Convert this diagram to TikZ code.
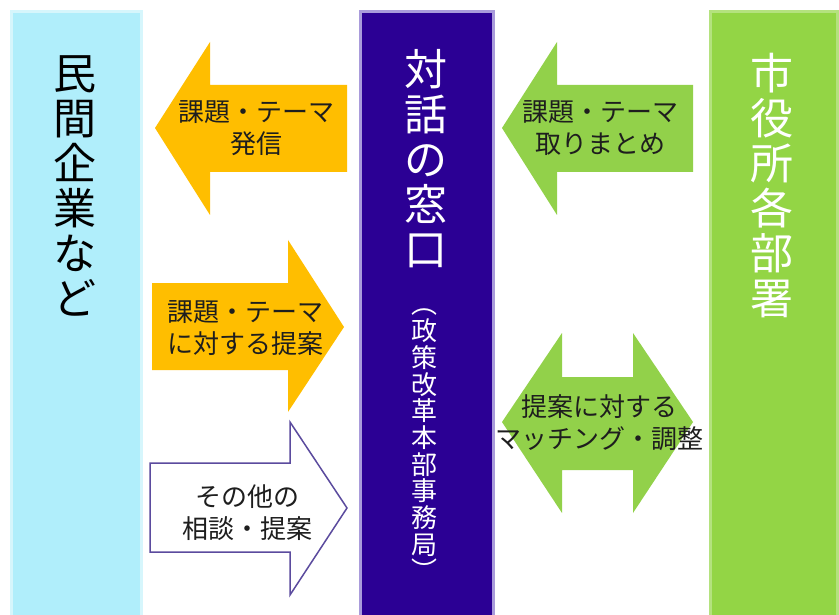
\documentclass[tikz,border=0pt]{standalone}
\usepackage{fontspec}
\newfontfamily\jpfont{Noto Sans CJK JP}

\definecolor{barcyan}{HTML}{B0EEFB}
\definecolor{edgecyan}{HTML}{D6F6FC}
\definecolor{barpurple}{HTML}{2B0094}
\definecolor{edgepurple}{HTML}{A99BDB}
\definecolor{bargreen}{HTML}{93D545}
\definecolor{edgegreen}{HTML}{B4E27E}
\definecolor{arroworange}{HTML}{FFBE00}
\definecolor{arrowgreen}{HTML}{92D14A}
\definecolor{outlinepurple}{HTML}{5B4B9E}
\definecolor{labelgray}{HTML}{1E1E1E}

\tikzset{
  bar/.style={rectangle, anchor=north west, minimum width=130pt, minimum height=640pt, line width=3pt},
  bigtext/.style={align=center, inner sep=0pt, font=\jpfont\fontsize{43}{45}\selectfont},
  smalltext/.style={align=center, inner sep=0pt, font=\jpfont\fontsize{26}{26.7}\selectfont},
  arrowtext/.style={align=center, inner sep=0pt, text=labelgray, font=\jpfont\fontsize{26}{32}\selectfont}
}

\begin{document}
\begin{tikzpicture}[x=1pt, y=-1pt]

    \clip (0,0) rectangle (839,615);
    \fill[white] (0,0) rectangle (839,615);

    % Columns
    \node[bar, fill=barcyan, draw=edgecyan] (minkan) at (10,10) {};
    \node[bar, fill=barpurple, draw=edgepurple, minimum width=133pt] (madoguchi) at (359,10) {};
    \node[bar, fill=bargreen, draw=edgegreen, minimum width=127pt] (shiyakusho) at (709,10) {};

    % Column titles
    \node[bigtext] (minkanlabel) at (75,186) {民\\間\\企\\業\\な\\ど};
    \node[bigtext, text=white] (madoguchilabel) at (426,159) {対\\話\\の\\窓\\口};
    \node[smalltext, text=white] (jimukyoku) at (424,445) {︵\\政\\策\\改\\革\\本\\部\\事\\務\\局\\︶};
    \node[bigtext, text=white] (shiyakushobulabel) at (772,186) {市\\役\\所\\各\\部\\署};

    % Left side arrows
    \fill[arroworange] (347,85) -- (210,85) -- (210,42) -- (155,128) -- (210,215) -- (210,172) -- (347,172) -- cycle;
    \node[arrowtext] (hasshin) at (256,128) {課題・テーマ\\発信};

    \fill[arroworange] (152,283) -- (288,283) -- (288,240) -- (344,327) -- (288,412) -- (288,370) -- (152,370) -- cycle;
    \node[arrowtext] (teian) at (245,328) {課題・テーマ\\に対する提案};

    \draw[fill=white, draw=outlinepurple, line width=1.5pt] (150,463) -- (290,463) -- (290,422) -- (347,508) -- (290,595) -- (290,552) -- (150,552) -- cycle;
    \node[arrowtext] (sonota) at (247,513) {その他の\\相談・提案};

    % Right side arrows
    \fill[arrowgreen] (693,85) -- (557,85) -- (557,42) -- (502,128) -- (557,215) -- (557,172) -- (693,172) -- cycle;
    \node[arrowtext] (torimatome) at (600,128) {課題・テーマ\\取りまとめ};

    \fill[arrowgreen] (502,422) -- (562,333) -- (562,377) -- (633,377) -- (633,333) -- (693,422) -- (633,513) -- (633,470) -- (562,470) -- (562,513) -- cycle;
    \node[arrowtext] (matching) at (599,423) {提案に対する\\マッチング・調整};

\end{tikzpicture}
\end{document}
